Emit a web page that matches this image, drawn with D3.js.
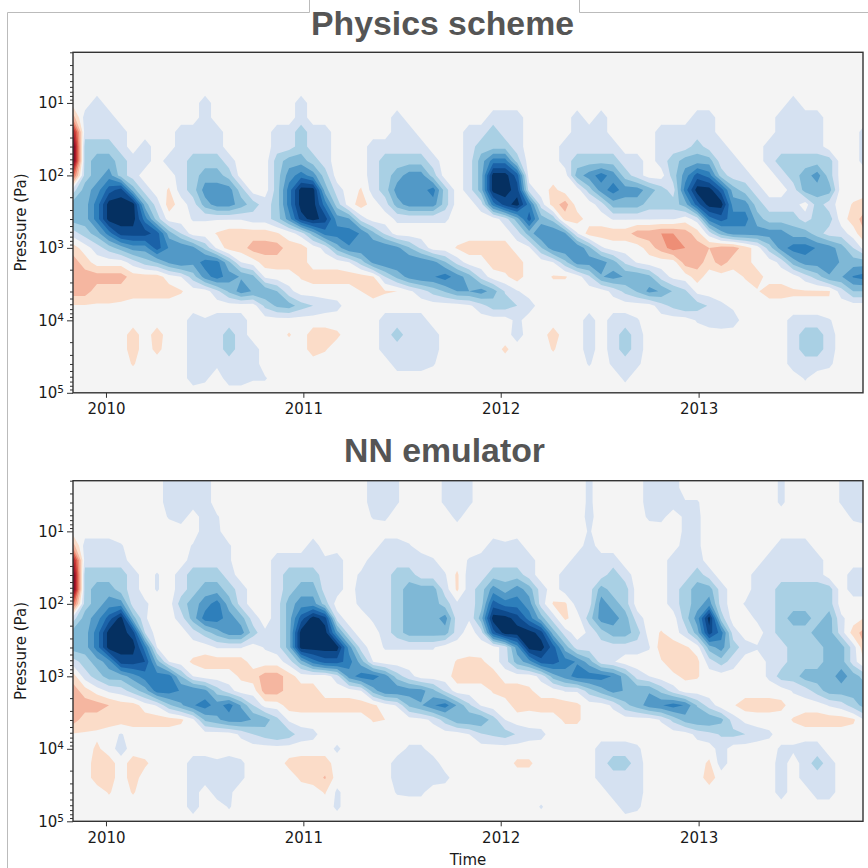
<!DOCTYPE html>
<html>
<head>
<meta charset="utf-8">
<script src="https://cdn.jsdelivr.net/npm/d3@7"></script>
<style>
    body { margin: 0; background: #fff; }
    svg { display: block; }
</style>
</head>
<body>
<div class="chart"></div>
<script>
// log10(pressure) of each grid row, top to bottom
const rowLogP = [0.2,0.4,0.6,0.8,1,1.2,1.4,1.6,1.8,2,2.2,2.4,2.6,2.8,3,3.2,3.4,3.6,3.8,4,4.2,4.4,4.6,4.8,5];
const gridStepDays = 22.2; // time between grid columns
const nCols = 67;

const yearTicks = [2010, 2011, 2012, 2013];
const majorPressure = [10, 100, 1000, 10000, 100000];
const exponents = ['1', '2', '3', '4', '5'];
const minorPressure = [2,3,4,5,6,7,8,9, 20,30,40,50,60,70,80,90, 200,300,400,500,600,700,800,900,
    2000,3000,4000,5000,6000,7000,8000,9000, 20000,30000,40000,50000,60000,70000,80000,90000];

// contour classes: positive = blue, negative = red
const levels = [0.5, 1.5, 2.5, 3.5, 4.5, 5.5, 6.5, 7.5];
const blues = ['#d5e1f1', '#a9d0e4', '#7fb8d6', '#5299c7', '#2e7fbb', '#1b62a8', '#0e4a8c', '#053061'];
const reds  = ['#fbdcc8', '#f5b6a0', '#ee8e76', '#dc5c4d', '#c53534', '#a81a2c', '#870a24', '#67001f'];

const physicsGrid = [
[0,0,0,0,0,0,0,0,0,0, 0,0,0,0,0,0,0,0,0,0, 0,0,0,0,0,0,0,0,0,0, 0,0,0,0,0,0,0,0,0,0, 0,0,0,0,0,0,0,0,0,0, 0,0,0,0,0,0,0,0,0,0, 0,0,0,0,0,0,0],
[0,0,0,0,0,0,0,0,0,0, 0,0,0,0,0,0,0,0,0,0, 0,0,0,0,0,0,0,0,0,0, 0,0,0,0,0,0,0,0,0,0, 0,0,0,0,0,0,0,0,0,0, 0,0,0,0,0,0,0,0,0,0, 0,0,0,0,0,0,0],
[0,0,0,0,0,0,0,0,0,0, 0,0,0,0,0,0,0,0,0,0, 0,0,0,0,0,0,0,0,0,0, 0,0,0,0,0,0,0,0,0,0, 0,0,0,0,0,0,0,0,0,0, 0,0,0,0,0,0,0,0,0,0, 0,0,0,0,0,0,0],
[0,0,0,0,0,0,0,0,0,0, 0,0,0,0,0,0,0,0,0,0, 0,0,0,0,0,0,0,0,0,0, 0,0,0,0,0,0,0,0,0,0, 0,0,0,0,0,0,0,0,0,0, 0,0,0,0,0,0,0,0,0,0, 0,0,0,0,0,0,0],
[0,0,1,0,0,0,0,0,0,0, 0,1,0,0,0,0,0,0,0,1, 0,0,0,0,0,0,0,0,0,0, 0,0,0,0,0,0,0,0,0,0, 0,0,0,0,0,0,0,0,0,0, 0,0,0,0,0,0,0,0,0,0, 1,0,0,0,0,0,0],
[-2,1,1,1,0,0,0,0,0,0, 0,1,0,0,0,0,0,0,0,1, 0,0,0,0,0,0,0,1,0,0, 0,0,0,0,0,1,1,1,0,0, 0,0,1,0,1,0,0,0,0,0, 0,0,1,1,0,0,0,0,0,1, 1,1,1,0,0,0,0],
[-6,1,1,1,1,0,0,0,0,1, 1,1,1,0,0,0,0,1,1,2, 1,1,0,0,0,0,0,1,1,0, 0,0,0,1,1,2,1,1,0,0, 0,0,1,1,1,0,0,0,0,1, 1,1,1,1,0,0,0,0,0,1, 1,1,1,0,0,0,1],
[-8,2,2,2,1,0,1,0,0,1, 1,1,1,0,0,0,0,1,1,2, 1,1,0,0,0,1,1,1,1,1, 0,0,0,1,2,2,2,1,0,0, 0,1,1,1,1,1,0,0,0,1, 1,1,2,1,1,0,0,0,1,1, 1,1,1,0,0,0,1],
[-8,2,3,3,2,1,1,0,1,1, 2,2,2,1,0,0,0,2,3,3, 2,1,0,0,0,1,2,2,2,2, 1,0,0,1,3,5,5,2,0,0, 0,1,2,2,2,2,1,1,0,1, 2,3,3,3,1,1,0,0,1,2, 2,2,2,2,0,0,1],
[-4,2,3,4,2,1,0,0,0,1, 2,3,3,2,0,0,0,2,4,5, 4,2,0,0,0,1,2,3,4,4, 2,0,0,1,3,8,8,6,0,0, 0,0,3,4,5,4,2,1,0,0, 2,4,6,5,2,1,1,0,0,1, 2,3,4,2,0,0,0],
[1,3,4,6,7,3,1,0,-0.6,1, 2,4,4,4,2,0,0,2,5,8, 8,3,1,0,-0.6,1,2,4,4,4, 5,2,0,1,3,8,8,7,1,0, -0.8,0,0,2,4,5,4,4,3,2, 1,5,8,8,6,3,2,1,0,0, 1,3,3,3,0,0,0],
[3,3,5,8,8,8,3,1,-1,0, 1,3,4,4,3,2,1,2,5,8, 8,5,2,0,-1,0,1,3,4,4, 4,2,0,0,1,5,7,8,5,1, -1,-2,0,0,1,3,3,3,2,2, 2,3,6,8,8,4,4,2,1,1, 1,0,2,1,0,-0.6,-1],
[3,3,5,8,8,8,5,2,0,0, 0.6,0.6,0.6,0.6,0.6,1,1,2,4,7, 8,7,4,3.6,1,0,0,0.7,0.7,0.7, 0.7,0.7,0,0,0,0,1,3,6,3, 2.1,-1,-1,0,0,0.6,0.6,0.6,0.6,0.6, 0.6,0,1,5,6,5,5,3,2,2, 2,1,2,2,0,-1,-2],
[1,2,3,5,7,7,7,6,3,1.5, 0,0,-0.6,-1,-1,-1,-1,-0.6,0,1, 3,5,5,5,4.4,2.8,1.3,0,0,0, 0,0,0,0,0,0,0,1,3,4.4, 4.4,3.6,0.6,-1,-1,-1,-1,-2,-2,-2.5, -2.5,-2,-1,1,3,4,4,4,4,4, 3,3,2,1,1,0,-1.5],
[-1,0,1,2,3,4,4,6,4.4,4.4, 3.8,2.2,0.3,-1,-1,-2,-2,-2,-1,-1, 0,0.8,3,4.4,4.4,4.4,4.4,3.8,2.6,1.3, 0,0,-0.6,-1,-1,-1,-1,0,0.3,2.4, 4.2,4.4,4.4,2.8,0.7,0,0,0,-1,-2, -3,-2.5,-2,-1.5,-2,-2,-1,0,2,4, 5,5,4.4,4,3,1.5,0],
[-2,-1,0,0,0,1,2,2.6,3.7,4.4, 3.8,5,4.9,2.7,0.5,0,-1,-1,-1,-1, 0,0,0,0.5,2,3.8,4.4,4.4,4.4,4.4, 3.9,2.6,1.1,0,0,-1,-1,-1,0,0, 0.5,2.2,4,4,4,2.95,1.3,0.4,0,0, 0,-2,-2,-1,-2,-1,-1,0,0,0.8, 3,4,4,4,3.4,3,3],
[-2,-2,-2,-2,-2,-1,-1,-1,0,0.5, 2,4,5,4,3.4,2.8,0.3,0,0,-0.6, -1,-1,-1,-1,-1,-0.6,1.5,2.8,3.9,4.4, 4.4,5,4,3,1.1,0,-0.3,-1,0,0, -0.6,-0.6,0,1.3,3.4,3.9,3.4,3.4,2.8,1.1, 0.2,0,-1,0,0,0,-0.6,-1,0,0, 0,1,2,3.4,3.4,4.6,5],
[-2,-2,-1,-1,-1,-1,-1,-1,-1,-0.6, 0,0,1.2,2.7,4,3.4,3.4,2.5,0.8,0, 0,0,0,0,-0.5,-1,-0.6,-0.5,0.3,1, 1.9,2.6,3.5,3.5,4,3,1.4,0.6,0,0, 0,0,0,0,0,0.8,1.8,2.6,3.8,3.4, 2.4,1.7,0.2,0,0,0,0,-0.4,-1,-1, -0.6,-0.6,-0.6,-0.6,1,2.5,2.5],
[-0.4,-0.4,-0.4,-0.4,-0.3,0,0,0,0,0, 0,0,0,0,0,0,1.75,2.7,3,2, 1.5,1,0.8,0,0,0,0,0,0,0, 0,0,0,0.3,1.1,2,2,1.5,1,0, 0,0,0,0,0,0,0,0,0,1.1, 1.8,2.4,2,1.4,0.7,0.3,0,0,0,0, -0.3,-0.3,-0.3,-0.3,0,0,0],
[0,0,0,0,0,0,0,0,0,0, 1,0.6,1,1,1,0,0,0,0,0, 0,0,0,0,0,0,1,1,1,1, 0,0,0,0,0,0,0,0.8,0,0, 0,0,0,1,0,1,1,0.6,0,0, 0,0,0.6,1,1.2,1,0,0,0,0, 1,1,1,0.6,0,0,0],
[0,0,0,0,0,-1,0,-1,0,0, 1,1,1,2,1,0,0,0,-0.6,0, -1,-1,-0.7,0,0,0,1,2,1,1, 1,0,0,0,0,0,0,1,0,0, -1,0,0,1,0,1,2,1,0,0, 0,0,0,0,0,0,0,0,0,0, 1,2,2,1,0,0,0],
[0,0,0,0,0,-1,0,-0.8,0,0, 1,1,1,2,1,1,0,0,0,0, -1,-0.6,0,0,0,0,1,1,1,1, 1,0,0,0,0,0,-0.7,0,0,0, -0.6,0,0,1,0,1,2,1,0,0, 0,0,0,0,0,0,0,0,0,0, 1,2,2,1,0,0,0],
[0,0,0,0,0,-0.6,0,0,0,0, 1,1,0.7,1,1,1,0,0,0,0, 0,0,0,0,0,0,0,1,1,1, 0.6,0,0,0,0,0,0,0,0,0, 0,0,0,0.6,0,0.7,1,0.7,0,0, 0,0,0,0,0,0,0,0,0,0, 1,1,1,0.7,0,0,0],
[0,0,0,0,0,0,0,0,0,0, 1,0.7,0,1,1,0.6,0.6,0,0,0, 0,0,0,0,0,0,0,0,0,0, 0,0,0,0,0,0,0,0,0,0, 0,0,0,0,0,0,0.7,0,0,0, 0,0,0,0,0,0,0,0,0,0, 0,0.6,0,0,0,0,0],
[0,0,0,0,0,0,0,0,0,0, 0,0,0,0,0,0,0,0,0,0, 0,0,0,0,0,0,0,0,0,0, 0,0,0,0,0,0,0,0,0,0, 0,0,0,0,0,0,0,0,0,0, 0,0,0,0,0,0,0,0,0,0, 0,0,0,0,0,0,0]
];

const emulatorGrid = [
[0,0,0,0,0,0,0,0,1,1, 1,1,0,0,0,0,0,0,0,0, 0,0,0,0,0,1,1,0.6,0,0, 0,0.7,1,0.7,0,0,0,0,0,0, 0,0,0,0.7,0,0,0,0,1,1, 1,0,0,0,0,0,0,0,0,0.7, 0,0,0,0,0.6,1,1],
[0,0,0,0,0,0,0,0,1,1, 1,1,0,0,0,0,0,0,0,0, 0,0,0,0,0,1,1,0.6,0,0, 0,0.7,1,0.7,0,0,0,0,0,0, 0,0,0,0.7,0,0,0,0,1,1, 1,0,0,0,0,0,0,0,0,0.7, 0,0,0,0,0.6,1,1],
[0,0,0,0,0,0,0,0,1,1, 1,1,0,0,0,0,0,0,0,0, 0,0,0,0,0,1,1,0.6,0,0, 0,0.7,1,0.7,0,0,0,0,0,0, 0,0,0,0.7,0,0,0,0,1,1, 1,0.6,0.6,0,0,0,0,0,0,0.7, 0,0,0,0,0.6,1,1],
[0,0,0,0,0,0,0,0,0.6,1, 0,1,0.6,0,0,0,0,0,0,0, 0,0,0,0,0,0.6,0.7,0,0,0, 0,0,0.8,0,0,0,0,0,0,0, 0,0,0,0.8,0,0,0,0,0.7,0.8, 0,0.7,0.7,0,0,0,0,0,0,0, 0,0,0,0,0,0.7,1],
[0,0,0,0,0,0,0,0,0,0, 0,1,0.7,0,0,0,0,0,0,0, 0,0,0,0,0,0,0,0,0,0, 0,0,0,0,0,0,0,0,0,0, 0,0,0,0.6,0,0,0,0,0,0, 0,0.7,0.7,0,0,0,0,0,0,0, 0,0,0,0,0,0,0],
[-2,1,1,1,0.6,0,0,0,0,0, 0.6,1,1,0.6,0,0,0,0,0,0, 1,0,0,0,0,0,1,1,0.6,0, 0,0,0,0,0,1,0.7,1,0,0, 0,0,0,1,0,0,0,0,0,0, 0,1,0.7,0,0,0,0,0,0,1, 1,1,0,0,0,0,0],
[-6,1,1,1,1,0,0,0,0,0, 1,1,1,0.6,0,0,0,1,1,1, 1,0.7,1,0,0,1,1,1,1,1, 0.6,0,0,0.6,1,1,1,1,1,0, 0,0,1,1,1,1,0,0,0,0, 1,1,1,0,0,0,0,0,1,1, 1,1,1,0,0,0,0],
[-8,2,2,2,2,1,0,0.6,0,1, 2,2,2,1,0,0,0,1,2,2, 2,1,1,0,0.7,1,1,2,2,1, 1,0.6,-0.7,1,1,2,2,2,1,0, 0,1,1,1,1,2,1,0,0,0, 1,1,2,1,0,0,0,1,1,1, 1,1,1,0,0,1,1],
[-8,2,3,3,2,1,0,0.6,0,1, 2,3,3,2,1,0,0,1,2,3, 3,1,1,0,1,1,1,2,3,3, 3,1,-0.7,1,2,4,3,4,3,1, 0,1,1,1,3,2,2,0,0,0, 1,2,3,3,1,0,0,1,1,2, 2,2,2,2,0,1,1],
[-4,2,3,4,4,1,0.7,0,0,2, 3,4,5,3,1,0,0,1,3,4, 4,2,0,0,0.8,1,1,2,3,3, 3,2,0.7,1,2,6,5,5,4,1, -0.6,-0.7,1,1,4,3,2,0,0,0, 1,2,3,4,1,0,0.6,1,1,2, 2,2,2,2,0,0,0],
[1,3,4,6,8,3,0.6,0,0,1, 3,5,5,4,3,1,0,1,3,6, 8,7,1,0,0,0.7,1,2,3,3, 3,4,1,0.6,3,8,8,7,5,3, 1,-0.7,0,2,4,4,3,1,0,0, 0,2,4,8,2,0,0,0.7,1,2, 3,3,2,3,0.7,0,-0.6],
[3,3,5,8,8,7,1.5,0,0,0, 1,2,3,4,4,2,0.7,1,3,8, 8,8,4,1,0,0,1,2,3,3, 3,3,1,0,1,6,8,8,8,7, 3,1,0,0.7,2,3,3,2,0,-0.6, 0,1,3,7,5,1,0,0,1,2, 2,2,3,3,1,-1,-2],
[3,3,5,8,8,8,5,0.5,0,0, 0,0,0.6,0.6,0.6,0,0.6,1,3,8, 8,8,8,4,1,0,0.6,0.6,0.6,0.6, 0.6,0,0,0,0,0,1,4,8,8, 6,3,1,1,1,1,1,1,0.6,-1, -1,-0.7,0,3,4,2,1,0.6,1,1, 2,2,2,3,3,1,-1.5],
[1,2,3,4,7,7,6.5,3,0.5,0, -0.7,-1,-1,-1,-1,0,0,0,1,3, 5,6,6,5,3,0.5,0,0,0,0, 0,0,-0.6,-0.8,-0.7,0,1,3,4,6, 6,5,4.4,3,1,0.6,0,0,0,-0.4, -1,-1,-0.8,1,2,1,0,0,0.7,1, 2,2,2,3,3,1,-0.7],
[-1,1,2,3,3,4,5,5,5,2.5, 0.5,0,0,0,-0.7,-1,-2,-2,-1,0, 0,0,1,4,5,5,4,2,0.9,0, 0,0,-1,-1,-1,-1,0,0,0,0.8, 3,4,5,5,5,4.4,3,1,0.5,0, -0.3,-0.7,-0.6,0,0,0,0,0,0.7,2, 2,3,3,3,4,3,2],
[-2,-1,0,0.7,1,2,3,5,5,4.4, 4.4,3.8,2,0.9,0,0,-2,-2,-1,-1, -1,0,0,0,0.5,3,4.4,4.4,4,3.9, 2.8,1.3,0,0,0,-0.6,-1,-1,-0.7,0, 0,0.6,0.6,2,3,3.9,3.4,3.4,3.4,2.2, 1,0,0,0,0,0,0,0,0,0, 0.6,1,2,3,3,3,3],
[-2,-2,-2,-1.5,-1,-1,0,0.6,2.3,3.3, 4.4,5,4,5,3.4,1.5,0.1,0,-1,-1, -1,-1,-1,-1,-1,-0.7,0,0.6,2.7,3.4, 4.4,5,3.4,1.7,0.4,0,0,-1,-0.8,-1, -1,-1,-0.7,0,0,0.7,2.2,3,4,4.4, 5,4.4,2.4,1,0,-0.4,-1,-1,-1,-0.8, 0,0,0,0.6,1,2,3],
[-2,-1,-1,-1,-1,-1,-1,-1,-1,-0.7, 0.3,2.7,3.3,4,4,3.4,3,1.8,0.3,0, 0,0,0,0,0,-0.6,-0.5,-0.5,0,0.2, 0.7,2,3.3,3.4,3.4,2,0.5,0,0,0, 0,-0.7,-0.7,0,0,0,0,0,0,0.6, 1.8,3,3.4,3.4,2.8,1,0.2,0,0,0, -0.6,-1,-1,-1,-1,-0.7,0.6],
[-0.4,-0.4,-0.3,0,0.6,0,0,0,0,0, 0,0,0,0,0.7,1.5,2,2.5,2,1, 0.8,0,0,0,0,0,0,0,0,0, 0,0,0,0.5,1.4,1.7,2,1.4,0.9,0.8, 0,0,0,0,0,0,0,0,0,0, 0,0,0.8,1.2,1.6,1.8,1.5,1,0.7,0, 0,0,0,0,0,0,0],
[0,0,-0.7,0,1,0,0,0,0,0, 0,0,0,0,0,0,0,0,0,0, 0,0,0.7,0,0,0,0,0,0.7,0.7, 0,0,0,0,0,0,0,0,0,0, 0,0,0,0,1,1,1,0.7,0,0, 0,0,0,0,1,0,0,0,0,0.7, 0.7,1,1,0,0,0,0],
[0,0,-1,-1,0,-1,-0.7,0,0,0, 1,1,0.7,1,0.7,0,0,0,-0.8,-1, -1,-1,0,0,0,0,0,1,1,1, 1,0,0,0,0,0,0,-0.7,-0.7,0, 0,0,0,0,1,2,2,1,0,0, 0,0,0,-0.7,1,0,0,0,0,1, 0,1,2,1,0,0,0],
[0,0,-1,-1,0,-1,0,0,0,0, 1,1,1,1,0.7,0,0,0,0,-0.7, -1,-1.6,0,0,0,0,0,1,1,1, 1,0.8,0,0,0,0,0,0,0,0, 0,0,0,0,1,1,1,1,0,0, 0,0,0,-1,0,0,0,0,0,1, 0,1,1,1,0,0,0],
[0,0,0,-0.6,0,-0.6,0,0,0,0, 1,0,1,0.7,0,0,0,0,0,0, 0,-0.6,0.7,0,0,0,0,0.6,0.7,0.7, 0,0,0,0,0,0,0,0,0,0, 0,0,0,0,0,1,1,1,0,0, 0,0,0,0,0,0,0,0,0,1, 0,0,1,1,0,0,0],
[0,0,0,0,0,0,0,0,0,0, 1,0,0,0.6,0,0,0,0,0,0, 0,0,0.7,0,0,0,0,0,0,0, 0,0,0,0,0,0,0,0,0,0.6, 0,0,0,0,0,0,1,0.7,0,0, 0,0,0,0,0,0,0,0,0,0, 0,0,0,0,0,0,0],
[0,0,0,0,0,0,0,0,0,0, 0,0,0,0,0,0,0,0,0,0, 0,0,0,0,0,0,0,0,0,0, 0,0,0,0,0,0,0,0,0,0, 0,0,0,0,0,0,0,0,0,0, 0,0,0,0,0,0,0,0,0,0, 0,0,0,0,0,0,0]
];

[physicsGrid, emulatorGrid].forEach(g => {
    if (g.length !== rowLogP.length) throw new Error('bad rows ' + g.length);
    g.forEach((r, j) => { if (r.length !== nCols) throw new Error(`row ${j} has ${r.length}`); });
});

const svgSize = { width: 868, height: 868 };
const svg = d3.select('.chart')
    .append('svg')
    .attr('width', svgSize.width)
    .attr('height', svgSize.height)
    .style('font-family', '"DejaVu Sans"')
;

// bit of the page frame that is visible behind the figure
svg.append('path')
    .attr('d', 'M7.5,868V12.5H309.5V0M579.5,0V12.5H868')
    .attr('fill', 'none')
    .attr('stroke', '#bbb')
    .attr('stroke-width', 1)
;

const startDate = new Date(2009, 10, 1);
const xScale = d3.scaleTime()
    .domain([ startDate, new Date(2013, 10, 1) ])
    .range([ 73, 863 ])
;
const colDate = (c) => d3.timeHour.offset(startDate, c * gridStepDays * 24);

let clipId = 0;
const drawPanel = (grid, top, bottom, title, titleX, titleY) => {
    const yScale = d3.scaleLog()
        .domain([ 1e5, 2 ])
        .range([ bottom, top ])
    ;
    const id = 'clip' + (clipId++);
    svg.append('clipPath').attr('id', id)
        .append('rect')
        .attr('x', 73).attr('y', top)
        .attr('width', 790).attr('height', bottom - top)
    ;
    const g = svg.append('g');
    const plot = g.append('g').attr('clip-path', `url(#${id})`);
    plot.append('rect')
        .attr('x', 73).attr('y', top)
        .attr('width', 790).attr('height', bottom - top)
        .attr('fill', '#f4f4f4')
    ;

    // contour points sit half a cell off the sample positions
    const project = d3.geoPath(d3.geoTransform({
        point(x, y) {
            const logP = rowLogP[0] + (y - 0.5) * (rowLogP[1] - rowLogP[0]);
            this.stream.point(xScale(colDate(x - 0.5)), yScale(Math.pow(10, logP)));
        }
    }));
    const contours = d3.contours()
        .size([ nCols, rowLogP.length ])
        .thresholds(levels)
    ;
    const flat = grid.flat();
    plot.selectAll('.red')
        .data(contours(flat.map(v => -v)))
        .enter().append('path')
        .attr('class', 'red')
        .attr('d', project)
        .attr('fill', (d, i) => reds[i])
    ;
    plot.selectAll('.blue')
        .data(contours(flat))
        .enter().append('path')
        .attr('class', 'blue')
        .attr('d', project)
        .attr('fill', (d, i) => blues[i])
    ;

    // axes
    const xAxis = d3.axisBottom(xScale)
        .tickValues(yearTicks.map(y => new Date(y, 0, 1)))
        .tickFormat(d3.timeFormat('%Y'))
        .tickSize(5)
        .tickPadding(6)
    ;
    const xg = g.append('g').attr('transform', `translate(0, ${bottom})`).call(xAxis);

    const yMinor = d3.axisLeft(yScale)
        .tickValues(minorPressure)
        .tickFormat('')
        .tickSize(3)
    ;
    const yMajor = d3.axisLeft(yScale)
        .tickValues(majorPressure)
        .tickFormat(() => '10')
        .tickSize(6)
        .tickPadding(3)
    ;
    const ymg = g.append('g').attr('transform', 'translate(73, 0)').call(yMinor);
    const yg = g.append('g').attr('transform', 'translate(73, 0)').call(yMajor);
    yg.selectAll('.tick text')
        .append('tspan')
        .attr('dy', '-0.45em')
        .style('font-size', '10.5px')
        .text((d, i) => exponents[i])
    ;

    [xg, yg, ymg].forEach(a => {
        a.selectAll('.domain').remove();
        a.selectAll('line').attr('stroke', '#333').attr('stroke-width', 1);
        a.selectAll('text')
            .attr('fill', '#1a1a1a')
            .style('font-family', '"DejaVu Sans"')
        ;
    });
    xg.selectAll('text').style('font-size', '15px');
    yg.selectAll('.tick > text').style('font-size', '15px');

    g.append('rect')
        .attr('x', 73).attr('y', top)
        .attr('width', 790).attr('height', bottom - top)
        .attr('fill', 'none')
        .attr('stroke', '#333')
        .attr('stroke-width', 1.4)
    ;

    g.append('text')
        .attr('transform', `translate(21, ${(top + bottom) / 2}) rotate(-90)`)
        .attr('dy', '0.36em')
        .attr('text-anchor', 'middle')
        .attr('fill', '#1a1a1a')
        .style('font-size', '15px')
        .text('Pressure (Pa)')
    ;
    svg.append('text')
        .attr('x', titleX).attr('y', titleY)
        .attr('text-anchor', 'middle')
        .attr('fill', '#555')
        .style('font-family', '"Liberation Sans"')
        .style('font-weight', 'bold')
        .style('font-size', '33.8px')
        .text(title)
    ;
};

drawPanel(physicsGrid, 52.3, 392.8, 'Physics scheme', 442.5, 35);
drawPanel(emulatorGrid, 480.7, 821.3, 'NN emulator', 444.5, 462);

svg.append('text')
    .attr('x', 468).attr('y', 865)
    .attr('text-anchor', 'middle')
    .attr('fill', '#1a1a1a')
    .style('font-size', '15px')
    .text('Time')
;
</script>
</body>
</html>
